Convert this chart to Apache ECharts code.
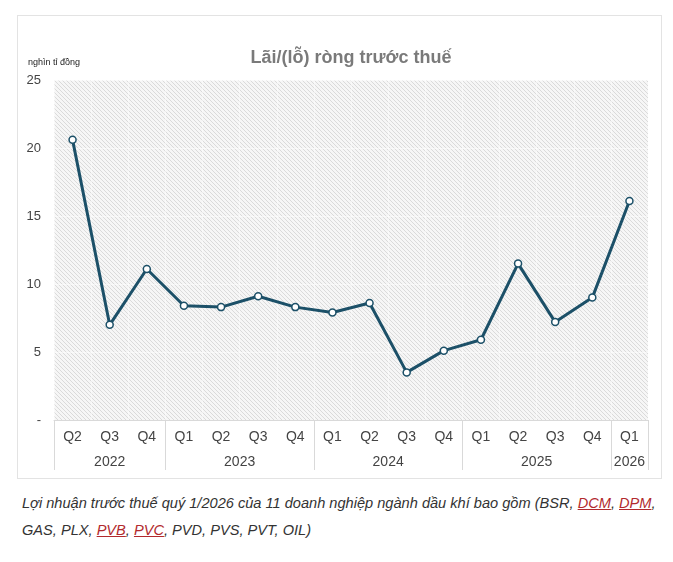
<!DOCTYPE html>
<html>
<head>
<meta charset="utf-8">
<script src="https://cdn.jsdelivr.net/npm/echarts@6/dist/echarts.min.js"></script>
<style>
  body { margin: 0; background: #fff; font-family: "Liberation Sans", Arial, sans-serif; }
  .outerbox { position: absolute; left: 17px; top: 15px; width: 643px; height: 462px; border: 1px solid #e3e3e3; }
  #chart { width: 643px; height: 462px; }
  .caption { position: absolute; left: 22px; top: 490px; font-size: 14.6px; font-style: italic; color: #333; line-height: 27px; white-space: nowrap; }
  .caption a { color: #b22a2e; text-decoration: underline; }
</style>
</head>
<body>
<div class="outerbox"><div id="chart"></div></div>
<div class="caption">Lợi nhuận trước thuế quý 1/2026 của 11 doanh nghiệp ngành dầu khí bao gồm (BSR, <a>DCM</a>, <a>DPM</a>,<br>GAS, PLX, <a>PVB</a>, <a>PVC</a>, PVD, PVS, PVT, OIL)</div>
<script>
// du lieu
const quarters = ['Q2', 'Q3', 'Q4', 'Q1', 'Q2', 'Q3', 'Q4', 'Q1', 'Q2', 'Q3', 'Q4', 'Q1', 'Q2', 'Q3', 'Q4', 'Q1'];
const profit = [20.6, 7.0, 11.1, 8.4, 8.3, 9.1, 8.3, 7.9, 8.6, 3.5, 5.1, 5.9, 11.5, 7.2, 9.0, 16.1];
const years = ['2022', '2023', '2024', '2025', '2026'];
const yearSpan = [3, 4, 4, 4, 1]; // so quy moi nam

// vach chia nam (chi so quy dau tien cua moi nam)
const yearStart = [];
const yearCenter = {};
let acc = 0;
yearSpan.forEach((n, i) => {
    yearStart.push(acc);
    yearCenter[acc + n / 2] = years[i];
    acc += n;
});

// nen soc cheo
const pat = document.createElement('canvas');
pat.width = 4; pat.height = 4;
const ctx = pat.getContext('2d');
ctx.fillStyle = '#f6f6f6';
ctx.fillRect(0, 0, 4, 4);
ctx.strokeStyle = '#dadada';
ctx.lineWidth = 1;
ctx.beginPath();
ctx.moveTo(0, 0); ctx.lineTo(4, 4);
ctx.moveTo(-1, 3); ctx.lineTo(1, 5);
ctx.moveTo(3, -1); ctx.lineTo(5, 1);
ctx.stroke();

let myChart = echarts.init(document.getElementById('chart'));
myChart.setOption({
    title: {
        text: 'Lãi/(lỗ) ròng trước thuế',
        left: 328,
        top: 28,
        textAlign: 'center',
        textStyle: { fontFamily: 'Liberation Sans', fontSize: 18, fontWeight: 'bold', color: '#7a7a7a' }
    },
    grid: {
        left: 36, right: 13, top: 64, bottom: 58,
        show: true,
        borderWidth: 0,
        backgroundColor: { image: pat, repeat: 'repeat' }
    },
    xAxis: [
        {
            type: 'category',
            data: quarters,
            boundaryGap: true,
            axisLine: { lineStyle: { color: '#d9d9d9' } },
            axisTick: {
                show: true,
                length: 50,
                interval: (i) => yearStart.indexOf(i) >= 0,
                lineStyle: { color: '#d9d9d9' }
            },
            axisLabel: { interval: 0, margin: 10, fontSize: 14, color: '#444', fontFamily: 'Liberation Sans' },
            splitLine: { show: true, interval: 0, lineStyle: { color: 'rgba(255,255,255,0.45)' } }
        },
        {
            type: 'value',
            position: 'bottom',
            min: 0,
            max: quarters.length,
            interval: 0.5,
            offset: 0,
            axisLine: { show: false },
            axisTick: { show: false },
            splitLine: { show: false },
            axisLabel: {
                margin: 35,
                fontSize: 14,
                color: '#444',
                fontFamily: 'Liberation Sans',
                showMinLabel: false,
                showMaxLabel: true,
                formatter: (v) => yearCenter[v] || ''
            }
        }
    ],
    yAxis: {
        type: 'value',
        min: 0,
        max: 25,
        interval: 5,
        name: 'nghìn tỉ đồng',
        nameLocation: 'end',
        nameGap: 13,
        nameTextStyle: { fontSize: 9, color: '#222', fontFamily: 'Liberation Sans' },
        axisLine: { show: false },
        axisTick: { show: false },
        axisLabel: {
            margin: 13,
            fontSize: 13,
            color: '#444',
            fontFamily: 'Liberation Sans',
            formatter: (v) => v === 0 ? '-' : v
        },
        splitLine: { lineStyle: { color: 'rgba(255,255,255,0.55)' } }
    },
    series: [
        {
            type: 'line',
            data: profit,
            xAxisIndex: 0,
            symbol: 'circle',
            symbolSize: 7,
            lineStyle: { color: '#1c5068', width: 3 },
            itemStyle: { color: '#fff', borderColor: '#1c5068', borderWidth: 1.5 },
            silent: true,
            z: 3
        }
    ],
    animation: false
});
</script>
</body>
</html>
